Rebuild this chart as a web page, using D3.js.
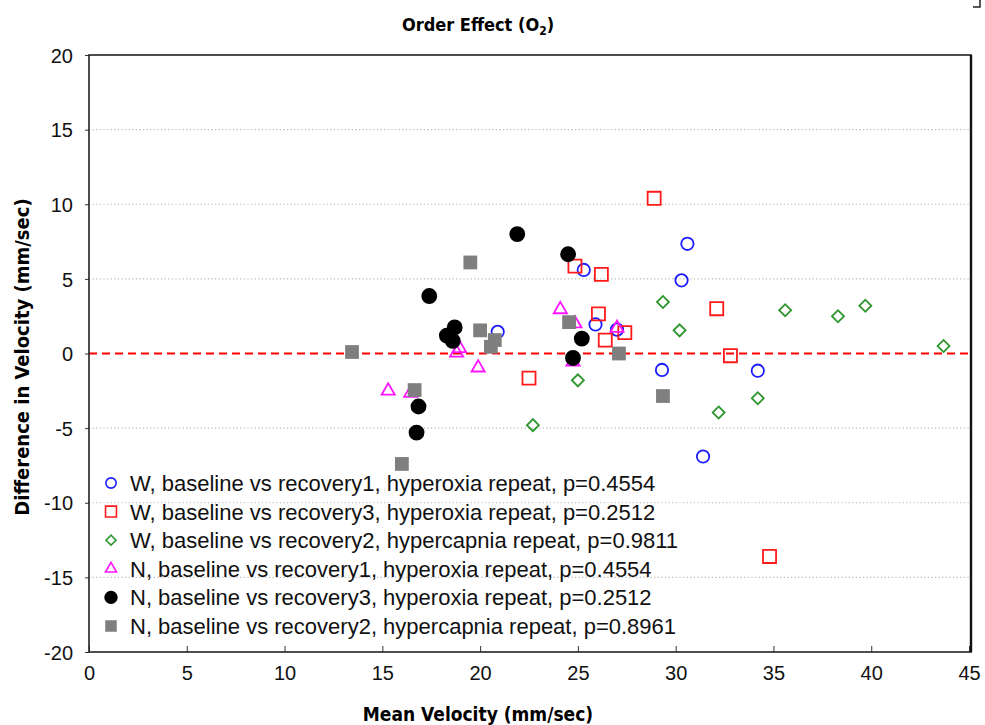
<html>
<head>
  <meta charset="utf-8">
  <title>Order Effect (O2)</title>
  <script src="https://d3js.org/d3.v7.min.js"></script>
  <style>
    html, body { margin:0; padding:0; background:#fff; overflow:hidden }
    svg { display:block }
    .tick text { font-family: "Liberation Sans", Arial, sans-serif; font-size:20px; fill:#111 }
    .lab { font-family: "Liberation Sans Narrow", "DejaVu Sans Condensed", Arial, sans-serif; font-weight:bold; fill:#000 }
    .leg { font-family: "Liberation Sans", Arial, sans-serif; font-size:22px; fill:#111 }
  </style>
</head>
<body>
<div class="chart"></div>
<script>

  // ---- data ----
  var xTicks = [0, 5, 10, 15, 20, 25, 30, 35, 40, 45];
  var yTicks = [-20, -15, -10, -5, 0, 5, 10, 15, 20];

  var seriesNames = [
    "W, baseline vs recovery1, hyperoxia repeat, p=0.4554",
    "W, baseline vs recovery3, hyperoxia repeat, p=0.2512",
    "W, baseline vs recovery2, hypercapnia repeat, p=0.9811",
    "N, baseline vs recovery1, hyperoxia repeat, p=0.4554",
    "N, baseline vs recovery3, hyperoxia repeat, p=0.2512",
    "N, baseline vs recovery2, hypercapnia repeat, p=0.8961"
  ];

  // [mean velocity, difference]
  var wRec1 = [[20.9, 1.45], [25.3, 5.6], [25.9, 1.95], [27.0, 1.6], [30.6, 7.35],
               [30.3, 4.9], [29.3, -1.1], [34.2, -1.15], [31.4, -6.9]];
  var wRec3 = [[28.9, 10.4], [24.85, 5.85], [26.2, 5.3], [26.05, 2.65], [26.4, 0.9],
               [27.4, 1.4], [22.5, -1.65], [32.1, 3.0], [32.8, -0.15], [34.8, -13.6]];
  var wRec2 = [[29.35, 3.45], [30.2, 1.55], [25.0, -1.8], [22.7, -4.8], [32.2, -3.95],
               [34.2, -3.0], [35.6, 2.9], [38.3, 2.5], [39.7, 3.2], [43.7, 0.5]];
  var nRec1 = [[15.3, -2.5], [16.45, -2.65], [18.95, 0.35], [18.8, 0.05], [19.9, -0.95],
               [24.1, 2.95], [24.85, 2.0], [24.75, -0.55], [27.0, 1.7]];
  var nRec3 = [[21.9, 8.0], [24.5, 6.65], [17.4, 3.85], [18.7, 1.75], [18.3, 1.2],
               [18.6, 0.85], [25.2, 1.0], [24.75, -0.3], [16.85, -3.55], [16.75, -5.3]];
  var nRec2 = [[13.45, 0.1], [19.5, 6.1], [20.0, 1.55], [20.75, 0.9], [20.55, 0.45],
               [16.65, -2.45], [24.55, 2.1], [27.1, 0.0], [29.35, -2.85], [16.0, -7.4]];

  var seriesData = [wRec1, wRec3, wRec2, nRec1, nRec3, nRec2];

  // marker styles per series (diamond = square turned 45deg)
  var styles = [
    { sym: d3.symbolCircle,   size: 120, rot: 0,  fill: "none",    stroke: "#1c1cff" },
    { sym: d3.symbolSquare,   size: 170, rot: 0,  fill: "none",    stroke: "#ff1a1a" },
    { sym: d3.symbolSquare,   size: 72,  rot: 45, fill: "none",    stroke: "#2e962e" },
    { sym: d3.symbolTriangle, size: 75,  rot: 0,  fill: "none",    stroke: "#ff14ff" },
    { sym: d3.symbolCircle,   size: 155, rot: 0,  fill: "#000",    stroke: "#000" },
    { sym: d3.symbolSquare,   size: 190, rot: 0,  fill: "#7f7f7f", stroke: "none" }
  ];

  var W = 985, H = 725;
  var mLeft = 89, mRight = 969, mTop = 55, mBottom = 652;

  var svg = d3.select("div.chart").append("svg")
      .attr("width", W)
      .attr("height", H);

  var x = d3.scaleLinear().domain([0, 45]).range([mLeft, mRight]);
  var y = d3.scaleLinear().domain([-20, 20]).range([mBottom, mTop]);

  // dotted horizontal grid
  svg.append("g").selectAll("line")
    .data(yTicks.filter(function(d) { return d != 0 && Math.abs(d) != 20; }))
    .enter().append("line")
      .attr("x1", mLeft).attr("x2", mRight + 2)
      .attr("y1", function(d) { return y(d); })
      .attr("y2", function(d) { return y(d); })
      .attr("stroke", "#b8b8b8")
      .attr("stroke-width", 1.2)
      .attr("stroke-dasharray", "1.2,2.4");

  // zero reference line
  svg.append("line")
    .attr("x1", mLeft).attr("x2", mRight + 2)
    .attr("y1", y(0)).attr("y2", y(0))
    .attr("stroke", "#f00")
    .attr("stroke-width", 1.8)
    .attr("stroke-dasharray", "8,5");

  // axes (plain hyphen for negatives, like the original)
  var plain = function(d) { return String(d); };

  var yAxis = svg.append("g")
    .attr("transform", "translate(" + mLeft + ",0)")
    .call(d3.axisLeft(y).tickValues(yTicks).tickFormat(plain).tickSize(4).tickPadding(12));
  yAxis.select(".domain").remove();
  yAxis.selectAll(".tick line").attr("stroke", "#333");
  yAxis.selectAll(".tick text").attr("dy", "0.36em");

  var xAxis = svg.append("g")
    .attr("transform", "translate(0," + mBottom + ")")
    .call(d3.axisBottom(x).tickValues(xTicks).tickFormat(plain).tickSize(-6).tickPadding(14));
  xAxis.select(".domain").remove();
  xAxis.selectAll(".tick line").attr("stroke", "#333");

  // frame
  svg.append("rect")
    .attr("x", mLeft).attr("y", mTop)
    .attr("width", mRight - mLeft + 2).attr("height", mBottom - mTop)
    .attr("fill", "none")
    .attr("stroke", "#222")
    .attr("stroke-width", 1.6);
  svg.append("line")
    .attr("x1", mRight + 2).attr("x2", mRight + 2)
    .attr("y1", mTop).attr("y2", mBottom)
    .attr("stroke", "#111").attr("stroke-width", 2.4);

  // little corner glyph at the top right of the picture
  svg.append("path")
    .attr("d", "M973,7 L980,7 L980,0")
    .attr("fill", "none").attr("stroke", "#222").attr("stroke-width", 1.5);

  // points
  seriesData.forEach(function(data, i) {
    var st = styles[i];
    svg.append("g").selectAll("path")
      .data(data)
      .enter().append("path")
        .attr("d", d3.symbol().type(st.sym).size(st.size))
        .attr("transform", function(d) {
          return "translate(" + x(d[0]) + "," + y(d[1]) + ") rotate(" + st.rot + ")";
        })
        .attr("fill", st.fill)
        .attr("stroke", st.stroke)
        .attr("stroke-width", 1.8);
  });

  // legend
  var leg = svg.append("g").attr("transform", "translate(111,483)");
  seriesNames.forEach(function(name, i) {
    var st = styles[i];
    var row = leg.append("g").attr("transform", "translate(0," + (i * 28.6) + ")");
    row.append("path")
      .attr("d", d3.symbol().type(st.sym).size(st.size * 0.7))
      .attr("transform", "rotate(" + st.rot + ")")
      .attr("fill", st.fill)
      .attr("stroke", st.stroke)
      .attr("stroke-width", 1.6);
    row.append("text")
      .attr("class", "leg")
      .attr("x", 19)
      .attr("dy", "0.36em")
      .text(name);
  });

  // titles
  var title = svg.append("text")
    .attr("class", "lab")
    .attr("x", 478).attr("y", 31)
    .attr("text-anchor", "middle")
    .style("font-size", "18px");
  title.append("tspan").text("Order Effect (O");
  title.append("tspan").attr("dy", 4).style("font-size", "12px").text("2");
  title.append("tspan").attr("dy", -4).text(")");

  svg.append("text")
    .attr("class", "lab")
    .attr("x", 478).attr("y", 721)
    .attr("text-anchor", "middle")
    .style("font-size", "19px")
    .text("Mean Velocity (mm/sec)");

  svg.append("text")
    .attr("class", "lab")
    .attr("transform", "translate(29,357) rotate(-90)")
    .attr("text-anchor", "middle")
    .style("font-size", "20px")
    .text("Difference in Velocity (mm/sec)");

</script>
</body>
</html>
